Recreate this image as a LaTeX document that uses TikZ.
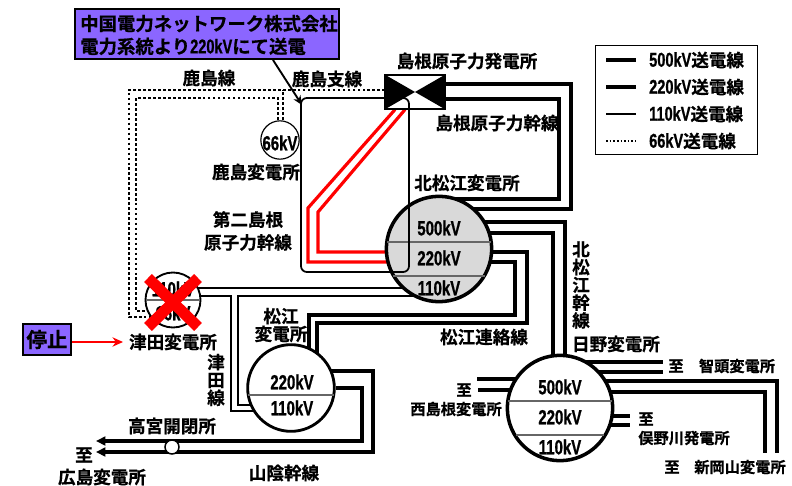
\documentclass[tikz,border=0pt]{standalone}
\usepackage{fontspec}
\newfontfamily\jpfont[BoldFont={Noto Sans CJK JP Bold}, BoldFeatures={FakeBold=0.6}]{Noto Sans CJK JP}
\newfontfamily\kvfont[FakeStretch=0.73, BoldFeatures={FakeBold=0.8}]{Liberation Sans}
\usetikzlibrary{arrows.meta, backgrounds}
\definecolor{notepurple}{HTML}{8B66FF}
\definecolor{stationgray}{HTML}{D9D9D9}
\tikzset{
  jplabel/.style={inner sep=0pt, align=center, font=\jpfont\bfseries\fontsize{15}{15.2}\selectfont},
  smalllabel/.style={inner sep=0pt, align=center, font=\jpfont\bfseries\fontsize{13}{15}\selectfont},
  kvlabel/.style={inner sep=0pt, font=\kvfont\bfseries\fontsize{17.5}{18}\selectfont},
  station/.style={circle, draw, fill=white, inner sep=0pt, line width=3pt},
  chord/.style={draw=black!60, line width=1.2pt},
  line500/.style={line width=3.4pt, miter limit=10},
  line220/.style={line width=2.6pt},
  line110/.style={line width=1.7pt},
  line66/.style={line width=2.5pt, dash pattern=on 2.3pt off 1.95pt},
  redline/.style={red, line width=2.7pt},
  notebox/.style={draw, line width=1.7pt, fill=notepurple, inner sep=0pt}
}
\begin{document}
\begin{tikzpicture}[x=0.03cm, y=-0.03cm]
\useasboundingbox (0,0) rectangle (792,486);

% stations
\node[station, fill=stationgray, minimum size=3.16cm] (kita) at (439,249) {};
\node[station, minimum size=3.16cm] (hino) at (560,408) {};
\node[station, line width=2.4pt, minimum size=2.6cm] (matsue) at (291,388) {};
\node[station, line width=1.6pt, minimum size=1.65cm] (tsuda) at (173,300) {};
\node[station, line width=1pt, minimum size=1.15cm] (kashima) at (280,140) {};
\node[station, line width=1.3pt, minimum size=0.42cm] (takamiya) at (172,447) {};
\node[draw, fill=white, line width=1pt, minimum width=1.8cm, minimum height=1.02cm, inner sep=0pt] (plant) at (415,92) {};
\fill (plant.north west) -- (plant.center) -- (plant.south west) -- cycle;
\fill (plant.north east) -- (plant.center) -- (plant.south east) -- cycle;

% dividers
\draw[chord] (387,242) -- (491,242);
\draw[chord] (393,276) -- (485,276);
\draw[chord] (508,401) -- (612,401);
\draw[chord] (516,435) -- (604,435);
\draw[chord, line width=1pt] (248,395) -- (334,395);
\draw[chord, line width=1pt] (146,300) -- (200,300);

% free ends
\coordinate (chizuA) at (663,362);
\coordinate (chizuB) at (663,372);
\coordinate (okayamaA) at (777,453);
\coordinate (okayamaB) at (765,453);
\coordinate (nishiA) at (477,379);
\coordinate (nishiB) at (478,390);
\coordinate (matanoA) at (630,416);
\coordinate (matanoB) at (630,425);
\coordinate (hiroshimaA) at (96,441);
\coordinate (hiroshimaB) at (96,452);

\begin{scope}[on background layer]
% 500kV
\draw[line500] (plant.east |- 0,84) -- (571,84) -- (571,209) -- (kita |- 0,209);
\draw[line500] (plant.east |- 0,99) -- (559,99) -- (559,199) -- (kita |- 0,199);
\draw[line500] (kita |- 0,222) -- (565,222) -- (hino -| 565,0);
\draw[line500] (kita |- 0,233) -- (553,233) -- (hino -| 553,0);
\draw[line500] (hino |- 0,362) -- (chizuA);
\draw[line500] (hino |- 0,372) -- (chizuB);
\draw[line500] (hino |- 0,381) -- (777,381) -- (okayamaA);
\draw[line500] (hino |- 0,392) -- (765,392) -- (okayamaB);
\draw[line500] (hino |- 0,379) -- (nishiA);
\draw[line500] (hino |- 0,390) -- (nishiB);
% 220kV
\draw[line220] (hino |- 0,416) -- (matanoA);
\draw[line220] (hino |- 0,425) -- (matanoB);
\draw[line220] (kita |- 0,252) -- (527,252) -- (527,323) -- (317,323) -- (matsue -| 317,0);
\draw[line220] (kita |- 0,262) -- (515,262) -- (515,315) -- (309,315) -- (matsue -| 309,0);
\draw[line220] (matsue |- 0,371) -- (373,371) -- (373,452) -- (takamiya |- 0,452);
\draw[line220] (matsue) -- (362,388) -- (362,441) -- (takamiya |- 0,441);
\draw[line220, -{Triangle[length=8pt,width=7.5pt]}] (takamiya |- 0,452) -- (hiroshimaB);
\draw[line220, -{Triangle[length=8pt,width=7.5pt]}] (takamiya |- 0,441) -- (hiroshimaA);
% 110kV
\draw[line110] (tsuda |- 0,288) -- (kita |- 0,288);
\draw[line110] (kita |- 0,296) -- (238,296) -- (238,405) -- (matsue |- 0,405);
\draw[line110] (tsuda |- 0,296) -- (231,296) -- (231,411) -- (matsue |- 0,411);
% 66kV
\draw[line66] (plant |- 0,90) -- (129,90) -- (129,317) -- (tsuda |- 0,317);
\draw[line66] (kashima -| 278,0) -- (278,98) -- (136,98) -- (136,311) -- (tsuda |- 0,311);
\draw[line66] (kashima -| 283,0) -- (283,90);
% second trunk line
\draw[redline] (plant.south -| 395,0) -- (308,208) -- (308,262) -- (kita |- 0,262);
\draw[redline] (plant.south -| 405,0) -- (318,212) -- (318,252) -- (kita |- 0,252);
\end{scope}

\draw[line width=1.5pt, rounded corners=5pt] (plant.west |- 0,98) -- (301,98) -- (301,272) -- (409,272) -- (409,98) -- (plant.west |- 0,98);

% voltages
\node[kvlabel] (kita500) at (439,228) {500kV};
\node[kvlabel] (kita220) at (439,258) {220kV};
\node[kvlabel] (kita110) at (439,288) {110kV};
\node[kvlabel] (hino500) at (560,387) {500kV};
\node[kvlabel] (hino220) at (560,417) {220kV};
\node[kvlabel] (hino110) at (560,447) {110kV};
\node[kvlabel] (matsue220) at (292,382) {220kV};
\node[kvlabel] (matsue110) at (292,408) {110kV};
\node[kvlabel] (tsuda110) at (173,289) {110kV};
\node[kvlabel] (tsuda66) at (173,313) {66kV};
\node[kvlabel] (kashima66) at (280,143) {66kV};

% stopped station
\draw[red, line width=9.5pt] (148,278) -- (198,327);
\draw[red, line width=9.5pt] (198,278) -- (148,327);

% notes
\node[notebox, minimum width=7.9cm, minimum height=1.5cm] (note) at (207,34) {};
\node[jplabel, align=left, anchor=west, font=\jpfont\bfseries\fontsize{15.7}{19.5}\selectfont] (notetext) at (80,35) {中国電力ネットワーク株式会社\\電力系統より{\kvfont\fontsize{17}{19.5}\selectfont 220kV}にて送電};
\coordinate (branchtip) at (302,105);
\draw[line width=1.6pt, -{Stealth[length=8pt,width=7pt]}] (note.south -| 273,0) -- (branchtip);
\node[notebox, minimum width=1.44cm, minimum height=0.92cm, jplabel, font=\jpfont\bfseries\fontsize{17.5}{18}\selectfont] (stop) at (47,339.5) {停止};
\coordinate (stoptip) at (123,342);
\draw[red, line width=1.7pt, -{Stealth[length=9pt,width=8pt]}] (stop.east |- 0,342) -- (stoptip);

% names
\node[jplabel] (lbkashima) at (209,78) {鹿島線};
\node[jplabel] (lbbranch) at (327,79) {鹿島支線};
\node[jplabel] (lbplant) at (467,61) {島根原子力発電所};
\node[jplabel] (lbtrunk) at (497,123) {島根原子力幹線};
\node[jplabel] (lbkashimass) at (256,172) {鹿島変電所};
\node[jplabel] (lbkita) at (467,183) {北松江変電所};
\node[jplabel, font=\jpfont\bfseries\fontsize{15}{19.5}\selectfont] (lbsecond) at (248,231) {第二島根\\原子力幹線};
\node[jplabel] (lbkitatrunk) at (581,285) {北\\松\\江\\幹\\線};
\node[jplabel] (lbmatsue) at (281,325) {松江\\変電所};
\node[jplabel] (lbrenraku) at (484,337) {松江連絡線};
\node[jplabel] (lbhino) at (616,344) {日野変電所};
\node[jplabel] (lbtsuda) at (173,342) {津田変電所};
\node[jplabel] (lbtsudaline) at (216,380) {津\\田\\線};
\node[jplabel] (lbtakamiya) at (172,426) {高宮開閉所};
\node[jplabel] (lbhiroshima) at (84,455) {至};
\node[jplabel] (lbhiroshimass) at (102,477) {広島変電所};
\node[jplabel] (lbsanin) at (284,473) {山陰幹線};
\node[smalllabel] (lbnishi) at (464,390) {至};
\node[smalllabel] (lbnishiss) at (456,409) {西島根変電所};
\node[smalllabel] (lbchizu) at (676,366) {至};
\node[smalllabel] (lbchizuss) at (737,366) {智頭変電所};
\node[smalllabel] (lbmatano) at (646,419) {至};
\node[smalllabel] (lbmatanops) at (684,438) {俣野川発電所};
\node[smalllabel] (lbokayama) at (672,467) {至};
\node[smalllabel] (lbokayamass) at (740,467) {新岡山変電所};

% legend
\node[draw, line width=1pt, minimum width=4.88cm, minimum height=3.27cm, inner sep=0pt] (legend) at (676.5,100) {};
\foreach \kv/\ypos/\linesty in {500/60/line500, 220/87/line220, 110/114/line110}{
  \node[jplabel, anchor=west] (leg\kv) at (649,\ypos) {{\kvfont\fontsize{17}{18}\selectfont \kv kV}送電線};
  \draw[\linesty] (leg\kv.west) ++(-43,0) -- ++(30,0);
}
\node[jplabel, anchor=west] (leg66) at (649,141) {{\kvfont\fontsize{17}{18}\selectfont 66kV}送電線};
\draw[line66, line width=1.4pt, dash pattern=on 1.4pt off 1.7pt] (leg66.west) ++(-43,0) -- ++(30,0);
\end{tikzpicture}
\end{document}
